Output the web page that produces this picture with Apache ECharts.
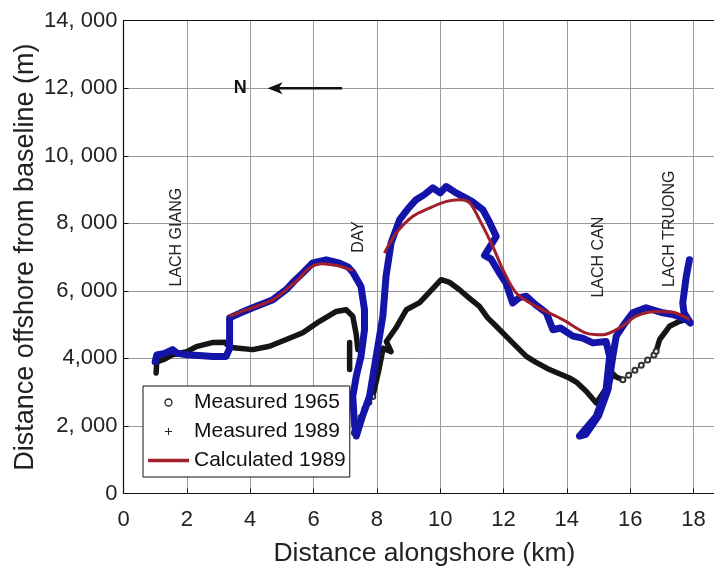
<!DOCTYPE html>
<html><head><meta charset="utf-8">
<script src="https://cdn.jsdelivr.net/npm/echarts@6/dist/echarts.min.js"></script>
<style>html,body{margin:0;padding:0;background:#fff}#c{width:714px;height:568px}</style>
</head><body><div id="c"></div>
<script>
// ---- data ----
const xTickValues = [0, 2, 4, 6, 8, 10, 12, 14, 16, 18];
const yTickLabels = {0: '0', 2000: '2, 000', 4000: '4,000', 6000: '6, 000', 8000: '8, 000', 10000: '10, 000', 12000: '12, 000', 14000: '14, 000'};

// Measured 1965 (dense part), '-' breaks the trace
const measured1965 = [
  [1.03,3570],[1.05,3900],[1.3,3980],[1.55,4110],[2.0,4200],[2.3,4350],[2.8,4470],[3.2,4480],[3.35,4330],
  [3.56,4310],[4.08,4260],[4.61,4360],[5.14,4560],[5.66,4760],[6.19,5100],[6.72,5390],[7.03,5440],[7.24,5250],
  [7.35,4700],[7.4,4260],['-','-'],
  [7.14,4470],[7.14,3670],['-','-'],
  [7.87,2870],[8.05,3600],[8.2,4300],[8.45,4200],[8.3,4500],[8.6,4900],[8.93,5440],[9.35,5650],[9.7,6000],
  [10.03,6330],[10.3,6250],[10.6,6040],[10.9,5800],[11.24,5540],[11.5,5200],[11.77,4950],[12.29,4460],
  [12.72,4060],[13.0,3900],[13.45,3670],[14.08,3420],[14.3,3300],[14.61,3030],[14.93,2680],[15.3,3200],
  [15.45,3550],[15.56,3450],[15.77,3370],['-','-'],
  [16.82,4210],[16.93,4560],[17.24,4950],[17.56,5100],[17.77,5150]
];
// Measured 1965 (sparse chains of circles)
const measured1965Sparse = [
  [7.29,1800],[7.4,2000],[7.5,2250],[7.62,2500],[7.75,2700],[7.87,2870],['-','-'],
  [15.77,3370],[15.95,3500],[16.15,3650],[16.35,3800],[16.55,3950],[16.75,4100],[16.82,4210]
];
// Measured 1989
const measured1989 = [
  [1.0,3900],[1.05,4100],[1.3,4150],[1.55,4260],[1.7,4150],[2.0,4110],[2.5,4080],[2.82,4060],[3.24,4060],
  [3.35,4300],[3.35,4700],[3.35,5200],[3.7,5350],[4.08,5500],[4.72,5740],[5.14,6040],[5.4,6300],[5.66,6530],
  [5.98,6830],[6.4,6920],[6.82,6820],[7.1,6700],[7.24,6550],[7.5,6130],[7.61,5440],[7.61,4850],[7.5,4060],
  [7.35,3470],[7.24,2880],[7.29,2090],[7.35,1700],[7.55,2300],[7.77,2880],[7.98,4060],[8.19,5250],[8.29,6430],
  [8.45,7420],[8.72,8110],[9.0,8450],[9.24,8700],[9.5,8850],[9.77,9050],[10.0,8900],[10.19,9090],[10.5,8900],
  [10.71,8800],[11.0,8650],[11.35,8400],[11.55,8050],[11.77,7610],[11.4,7050],[11.6,6950],[11.87,6530],
  [12.08,6230],[12.29,5640],[12.5,5800],[12.72,5840],[13.0,5600],[13.35,5350],[13.56,4850],[13.8,4900],
  [14.19,4660],[14.5,4600],[14.82,4460],[15.24,4500],[15.35,4060],[15.24,3080],[14.93,2290],[14.4,1700],
  [14.6,1750],[15.0,2300],[15.3,3080],[15.45,4060],[15.56,4660],[15.8,5000],[16.08,5350],[16.5,5500],
  [17.03,5350],[17.35,5300],[17.77,5150],[17.9,5050],[17.7,5350],[17.66,5640],[17.77,6430],[17.87,6920]
];
// Calculated 1989
const calculated1989 = [
  [3.35,5250],[3.7,5380],[4.08,5500],[4.72,5740],[5.14,6040],[5.56,6380],[5.87,6680],[6.29,6800],[6.72,6750],
  [7.0,6680],[7.24,6600],['-','-'],
  [8.24,7120],[8.61,7710],[9.14,8210],[9.66,8450],[10.2,8650],[10.61,8700],[10.92,8620],[11.24,8110],
  [11.66,7320],[11.98,6630],[12.4,5940],[13.03,5540],[13.87,5150],[14.61,4750],[15.14,4700],[15.66,4900],
  [16.19,5250],[16.82,5390],[17.35,5370],[17.87,5150]
];
// inlet annotations (label, x km, y m)
const inletNames = ['LACH GIANG', 'DAY', 'LACH CAN', 'LACH TRUONG'];
const inletX = [1.67, 7.42, 15.0, 17.24];
const inletY = [7590, 7600, 7000, 7840];
// north arrow
const northLabel = 'N';
const northPos = [3.69, 12000];
const arrowFrom = [6.9, 12000];
const arrowTo = [4.55, 12000];

// ---- chart ----
const FONT = '"Liberation Sans", Arial, Helvetica, sans-serif';
const chart = echarts.init(document.getElementById('c'), null, {renderer: 'canvas'});
const BLACK = '#151515', BLUE = '#1414a8', RED = '#a01f2a';

chart.setOption({
  animation: false,
  backgroundColor: '#fff',
  grid: {left: 123.5, top: 20.7, width: 601.7, height: 472.8, containLabel: false, outerBoundsMode: 'none'},
  xAxis: [{
    type: 'value', min: 0, max: 19, interval: 2,
    name: 'Distance alongshore (km)', nameLocation: 'middle', nameGap: 47, nameMoveOverlap: false,
    nameTextStyle: {fontSize: 26.5, color: '#222', fontFamily: FONT},
    axisLine: {show: true, lineStyle: {color: '#111', width: 1.2}},
    axisTick: {show: true, inside: true, length: 5, lineStyle: {color: '#111'}},
    axisLabel: {fontSize: 22, color: '#222', fontFamily: FONT, margin: 15,
      formatter: v => xTickValues.indexOf(v) >= 0 ? String(v) : ''},
    splitLine: {show: true, lineStyle: {color: '#9a9a9a', width: 1}}
  }, {
    type: 'value', min: 0, max: 19, position: 'top',
    axisLine: {show: true, lineStyle: {color: '#111', width: 1.2}},
    axisTick: {show: false}, axisLabel: {show: false}, splitLine: {show: false}
  }],
  yAxis: {
    type: 'value', min: 0, max: 14000, interval: 2000,
    name: 'Distance offshore from baseline (m)', nameLocation: 'middle', nameGap: 84, nameMoveOverlap: false,
    nameTextStyle: {fontSize: 27, color: '#222', fontFamily: FONT},
    axisLine: {show: true, lineStyle: {color: '#111', width: 1.2}},
    axisTick: {show: true, inside: true, length: 5, lineStyle: {color: '#111'}},
    axisLabel: {fontSize: 22, color: '#222', fontFamily: FONT, margin: 6,
      formatter: v => yTickLabels[v] !== undefined ? yTickLabels[v] : ''},
    splitLine: {show: true, lineStyle: {color: '#9a9a9a', width: 1}}
  },
  legend: {
    orient: 'vertical', left: 143, top: 386,
    itemWidth: 41, itemHeight: 7, itemGap: 8,
    padding: [6, 4, 6, 5],
    borderColor: '#111', borderWidth: 1, borderRadius: 0, backgroundColor: '#fff',
    textStyle: {fontSize: 21, color: '#111', fontFamily: FONT},
    selectedMode: false,
    data: [
      {name: 'Measured 1965', icon: 'circle', itemStyle: {color: '#fff', borderColor: '#222', borderWidth: 1.3}},
      {name: 'Measured 1989', icon: 'path://M3.4,0H4.6V3.4H8V4.6H4.6V8H3.4V4.6H0V3.4H3.4Z', itemStyle: {color: '#222', borderWidth: 0}},
      {name: 'Calculated 1989', icon: 'path://M0,0H41V3.5H0Z', itemStyle: {color: RED, borderWidth: 0}}
    ]
  },
  series: [
    {name: 'Measured 1965', type: 'line', data: measured1965, showSymbol: false, symbol: 'none',
      connectNulls: false, lineStyle: {color: BLACK, width: 5.5, join: 'round', cap: 'round'}, itemStyle: {color: BLACK}, z: 2},
    {name: 'Measured 1965', type: 'line', data: measured1965Sparse, symbol: 'emptyCircle', symbolSize: 5, showSymbol: true,
      connectNulls: false, lineStyle: {color: '#333', width: 1.5}, itemStyle: {color: '#333', borderWidth: 1.2}, z: 2},
    {name: 'Measured 1989', type: 'line', data: measured1989, showSymbol: false, symbol: 'none',
      connectNulls: false, lineStyle: {color: BLUE, width: 7, join: 'round', cap: 'round'}, itemStyle: {color: BLUE}, z: 3},
    {name: 'Calculated 1989', type: 'line', data: calculated1989, showSymbol: false, symbol: 'none', smooth: 0.3,
      connectNulls: false, lineStyle: {color: RED, width: 3}, itemStyle: {color: RED}, z: 4}
  ]
});

// annotations positioned through the chart's own coordinate conversion
const px = p => chart.convertToPixel({gridIndex: 0}, p);
const gfx = [];
inletNames.forEach((t, i) => {
  const p = px([inletX[i], inletY[i]]);
  gfx.push({type: 'text', x: p[0], y: p[1], rotation: Math.PI / 2, z: 10,
    style: {text: t, font: '16px ' + FONT, fill: '#222', align: 'center', verticalAlign: 'middle'}});
});
const np = px(northPos);
gfx.push({type: 'text', x: np[0], y: np[1], z: 10,
  style: {text: northLabel, font: 'bold 18px ' + FONT, fill: '#111', align: 'center', verticalAlign: 'middle'}});
const a0 = px(arrowFrom), a1 = px(arrowTo);
gfx.push({type: 'line', z: 10, shape: {x1: a0[0], y1: a0[1], x2: a1[0] + 10, y2: a1[1]}, style: {stroke: '#111', lineWidth: 2.5}});
gfx.push({type: 'polygon', z: 10, shape: {points: [[a1[0], a1[1]], [a1[0] + 15, a1[1] - 6], [a1[0] + 11, a1[1]], [a1[0] + 15, a1[1] + 6]]},
  style: {fill: '#111'}});
chart.setOption({graphic: gfx});
</script>
</body></html>
